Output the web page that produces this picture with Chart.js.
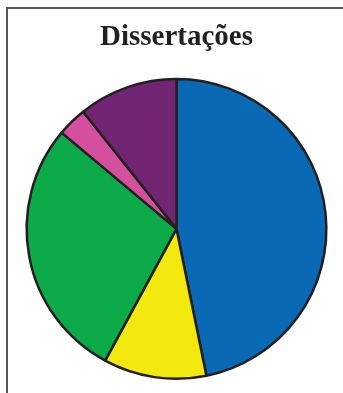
<!DOCTYPE html>
<html>
<head>
<meta charset="utf-8">
<script src="https://cdn.jsdelivr.net/npm/chart.js@4"></script>
<style>
  html, body { margin: 0; padding: 0; background: #fff; }
  #wrap { position: relative; width: 343px; height: 393px; }
  #frame { position: absolute; left: 6px; top: 7px; right: 0; bottom: 0;
           border-left: 2px solid #555; border-top: 2px solid #555; }
  canvas { position: absolute; left: 0; top: 0; }
</style>
</head>
<body>
<div id="wrap">
  <div id="frame"></div>
  <canvas id="chart" width="343" height="393"></canvas>
</div>
<script>
// slices, clockwise from 12 o'clock (percent)
const categories = ["A", "B", "C", "D", "E"];
const values = [46.8, 11.1, 28.2, 3.2, 10.7];
const colors = ["#0a69b4", "#f3e80e", "#0daa4a", "#d44f9e", "#722572"];
const titleText = "Dissertações";

const chart = new Chart(document.getElementById("chart"), {
  type: "pie",
  data: {
    labels: categories,
    datasets: [{
      data: values,
      backgroundColor: colors,
      borderColor: "#231f20",
      borderWidth: 2.5
    }]
  },
  options: {
    responsive: false,
    animation: false,
    layout: { padding: { left: 25, right: 15, top: 0, bottom: 13 } },
    plugins: {
      legend: { display: false },
      tooltip: { enabled: false },
      title: {
        display: true,
        text: titleText,
        color: "#231f20",
        font: { family: "Liberation Serif", size: 29, weight: "bold" },
        padding: { top: 20, bottom: 23 }
      }
    }
  }
});
</script>
</body>
</html>
